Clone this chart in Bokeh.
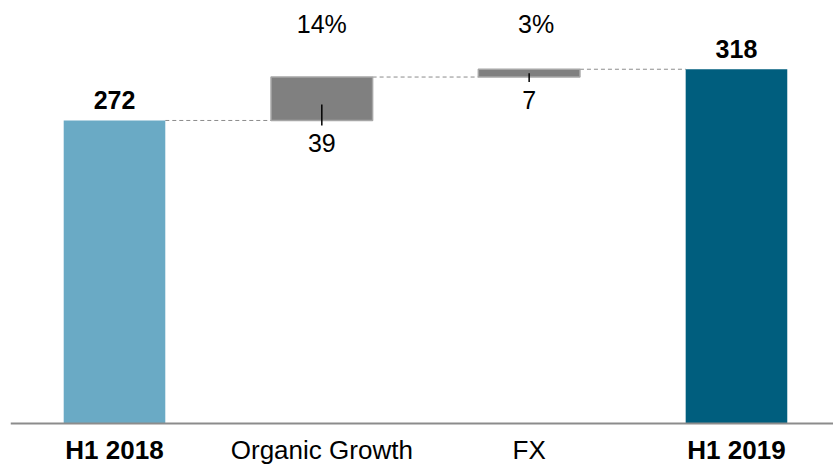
from bokeh.plotting import figure
from bokeh.models import ColumnDataSource, LabelSet, Range1d, Span
from bokeh.core.properties import value
from bokeh.embed import file_html
from bokeh.resources import INLINE

# Revenue bridge H1 2018 -> H1 2019
categories = ["H1 2018", "Organic Growth", "FX", "H1 2019"]
kinds = ["total", "step", "step", "total"]
values = [272, 39, 7, 318]
growth_pct = ["", "14%", "3%", ""]

TOTAL_COLORS = {"H1 2018": "#6aaac5", "H1 2019": "#005e7e"}
STEP_FILL = "#808080"
STEP_LINE = "#a6a6a6"
FONT = value("Liberation Sans")
BAR_W = 0.49

# running totals -> floating bar extents
xs = list(range(len(categories)))
bottoms, tops = [], []
running = 0
for k, v in zip(kinds, values):
    if k == "total":
        bottoms.append(0)
        tops.append(v)
        running = v
    else:
        bottoms.append(running)
        tops.append(running + v)
        running += v

tot_idx = [i for i, k in enumerate(kinds) if k == "total"]
stp_idx = [i for i, k in enumerate(kinds) if k == "step"]

tot_src = ColumnDataSource(dict(
    x=[xs[i] for i in tot_idx],
    bottom=[bottoms[i] for i in tot_idx],
    top=[tops[i] for i in tot_idx],
    color=[TOTAL_COLORS[categories[i]] for i in tot_idx],
    label=[str(values[i]) for i in tot_idx],
    cat=[categories[i] for i in tot_idx],
    zero=[0 for _ in tot_idx],
))
stp_src = ColumnDataSource(dict(
    x=[xs[i] for i in stp_idx],
    bottom=[bottoms[i] for i in stp_idx],
    top=[tops[i] for i in stp_idx],
    label=[str(values[i]) for i in stp_idx],
    pct=[growth_pct[i] for i in stp_idx],
    pct_dx=[0 if len(growth_pct[i]) > 2 else 7 for i in stp_idx],
    cat=[categories[i] for i in stp_idx],
    zero=[0 for _ in stp_idx],
    peak=[max(tops) for _ in stp_idx],
))

# the frame fills the page; the room under zero holds the category names
p = figure(width=833, height=464,
           x_range=Range1d(-0.5016, 3.468), y_range=Range1d(-36.8, 379.7),
           output_backend="svg", toolbar_location=None,
           x_axis_location=None, y_axis_location=None,
           min_border_left=10, min_border_right=0,
           min_border_top=0, min_border_bottom=0)
p.outline_line_color = None
p.grid.visible = False
p.background_fill_color = "white"
p.border_fill_color = "white"

# baseline
p.add_layout(Span(location=0, dimension="width",
                  line_color="#8c8c8c", line_width=2))

# dashed connectors between consecutive bars
p.segment(x0=[xs[i] + BAR_W / 2 for i in range(len(xs) - 1)],
          x1=[xs[i + 1] - BAR_W / 2 for i in range(len(xs) - 1)],
          y0=[tops[i] for i in range(len(xs) - 1)],
          y1=[tops[i] for i in range(len(xs) - 1)],
          line_color="#8c8c8c", line_width=1, line_dash="4 3")

p.vbar(x="x", bottom="bottom", top="top", width=BAR_W, source=tot_src,
       fill_color="color", line_color="color", line_width=0)
p.vbar(x="x", bottom="bottom", top="top", width=BAR_W, source=stp_src,
       fill_color=STEP_FILL, line_color=STEP_LINE, line_width=1.5)

# leader ticks from the step bars to their value labels
step_vals = [values[i] for i in stp_idx]
p.segment(x0=stp_src.data["x"], x1=stp_src.data["x"],
          y0=[b - 4.5 for b in stp_src.data["bottom"]],
          y1=[b + min(v / 2, 14.4) for b, v in zip(stp_src.data["bottom"], step_vals)],
          line_color="black", line_width=1.5)

NUM_SIZE = "25px"
CAT_SIZE = "26px"

p.add_layout(LabelSet(x="x", y="top", text="label", source=tot_src,
                      y_offset=11, text_align="center", text_baseline="alphabetic",
                      text_font=FONT, text_font_size=NUM_SIZE,
                      text_font_style="bold", text_color="black"))
p.add_layout(LabelSet(x="x", y="bottom", text="label", source=stp_src,
                      y_offset=-32, text_align="center", text_baseline="alphabetic",
                      text_font=FONT, text_font_size=NUM_SIZE, text_color="black"))
p.add_layout(LabelSet(x="x", y="peak", text="pct", source=stp_src,
                      x_offset="pct_dx", y_offset=36,
                      text_align="center", text_baseline="alphabetic",
                      text_font=FONT, text_font_size=NUM_SIZE, text_color="black"))

# category labels below the baseline
p.add_layout(LabelSet(x="x", y="zero", text="cat", source=tot_src,
                      y_offset=-35, text_align="center", text_baseline="alphabetic",
                      text_font=FONT, text_font_size=CAT_SIZE,
                      text_font_style="bold", text_color="black"))
p.add_layout(LabelSet(x="x", y="zero", text="cat", source=stp_src,
                      y_offset=-35, text_align="center", text_baseline="alphabetic",
                      text_font=FONT, text_font_size=CAT_SIZE, text_color="black"))

open("out.html", "w").write(file_html(p, INLINE))
